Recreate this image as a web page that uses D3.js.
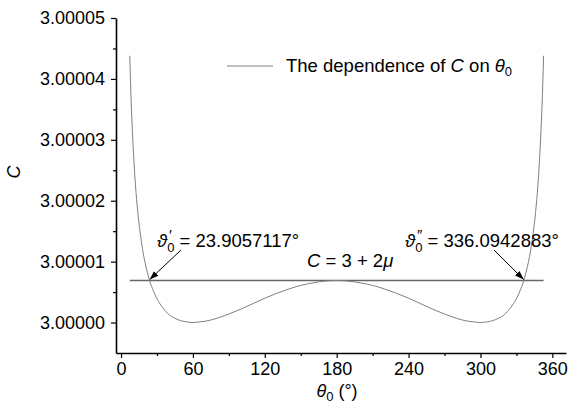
<!DOCTYPE html>
<html>
<head>
<meta charset="utf-8">
<script src="https://cdn.jsdelivr.net/npm/d3@7"></script>
<style>
  body { margin: 0; background: #fff; }
  svg text { font-family: "Liberation Sans", Arial, sans-serif; fill: #000; }
</style>
</head>
<body>
<div id="container"></div>
<script>
// theta0 (deg) and C
var thetaValues = [7.3, 8, 9, 10, 11, 12, 14, 16, 18, 20, 22, 24, 27, 30, 35, 40, 45, 50, 55, 60, 65, 70, 80, 90, 100, 110, 120, 130, 140, 150, 160, 170, 180,
    190, 200, 210, 220, 230, 240, 250, 260, 270, 280, 290, 295, 300, 305, 310, 315, 320, 325, 330, 333, 336, 338, 340, 342, 344, 346, 348, 349, 350, 351, 352, 352.7];
var cValues = [3.0000438, 3.0000391, 3.0000336, 3.0000293, 3.0000257, 3.0000227, 3.0000181, 3.0000147, 3.0000120, 3.0000099, 3.0000082, 3.0000068, 3.0000052, 3.0000039, 3.0000024, 3.0000013, 3.0000007, 3.0000003, 3.0000001, 3.0000000, 3.0000001, 3.0000002, 3.0000007, 3.0000014, 3.0000022, 3.0000031, 3.0000040, 3.0000048, 3.0000055, 3.0000061, 3.0000065, 3.0000068, 3.0000069,
    3.0000068, 3.0000065, 3.0000061, 3.0000055, 3.0000048, 3.0000040, 3.0000031, 3.0000022, 3.0000014, 3.0000007, 3.0000002, 3.0000001, 3.0000000, 3.0000001, 3.0000003, 3.0000007, 3.0000013, 3.0000024, 3.0000039, 3.0000052, 3.0000068, 3.0000082, 3.0000099, 3.0000120, 3.0000147, 3.0000181, 3.0000227, 3.0000257, 3.0000293, 3.0000336, 3.0000391, 3.0000438];

// the horizontal level C = 3 + 2mu and the two crossing points
var levelC = 3.0000069;
var levelTheta = [7.3, 352.7];
var crossTheta = [23.9057117, 336.0942883];
var crossLabels = ['23.9057117°', '336.0942883°'];

var xTicks = [0, 60, 120, 180, 240, 300, 360];
var xMinorTicks = [30, 90, 150, 210, 270, 330];
var yTicks = [3.00000, 3.00001, 3.00002, 3.00003, 3.00004, 3.00005];
var yMinorTicks = [3.000005, 3.000015, 3.000025, 3.000035, 3.000045];

var width = 569, height = 411;
var plotLeft = 116, plotRight = 566, plotTop = 18, plotBottom = 353;

var svg = d3.select('#container').append('svg')
    .attr('width', width)
    .attr('height', height);

var x = d3.scaleLinear().domain([-4.2, 371.4]).range([plotLeft, plotRight]);
var y = d3.scaleLinear().domain([2.999995, 3.00005]).range([plotBottom, plotTop]);

// axes
var xAxis = svg.append('g').attr('class', 'axis').attr('transform', 'translate(0,' + plotBottom + ')');
xAxis.call(d3.axisBottom(x).tickValues(xTicks).tickSize(5).tickSizeOuter(0).tickPadding(4));
xAxis.append('g').attr('class', 'minor').call(d3.axisBottom(x).tickValues(xMinorTicks).tickSize(3).tickFormat(''));

var yAxis = svg.append('g').attr('class', 'axis').attr('transform', 'translate(' + plotLeft + ',0)');
yAxis.call(d3.axisLeft(y).tickValues(yTicks).tickSize(5).tickSizeOuter(0).tickPadding(6).tickFormat(d3.format('.5f')));
yAxis.append('g').attr('class', 'minor').call(d3.axisLeft(y).tickValues(yMinorTicks).tickSize(3).tickFormat(''));

svg.selectAll('.minor .domain').remove();
svg.selectAll('.domain').attr('stroke', '#000').attr('stroke-width', 1.6);
svg.selectAll('.tick line').attr('stroke', '#000').attr('stroke-width', 1.2);
svg.selectAll('.tick text').style('font-size', '18px').style('font-family', '"Liberation Sans", Arial, sans-serif');

// axis titles
svg.append('text')
    .attr('transform', 'translate(20,172) rotate(-90)')
    .attr('text-anchor', 'middle')
    .style('font-size', '18px')
    .style('font-style', 'italic')
    .text('C');

var xt = svg.append('text')
    .attr('x', 337)
    .attr('y', 397)
    .attr('text-anchor', 'middle')
    .style('font-size', '18px');
xt.append('tspan').style('font-style', 'italic').text('θ');
xt.append('tspan').attr('dy', 4).style('font-size', '13px').text('0');
xt.append('tspan').attr('dy', -4).text(' (°)');

// level line
svg.append('line')
    .attr('x1', x(levelTheta[0]))
    .attr('x2', x(levelTheta[1]))
    .attr('y1', y(levelC))
    .attr('y2', y(levelC))
    .attr('stroke', '#666')
    .attr('stroke-width', 1.3);

// curve
var points = thetaValues.map(function(t, i) { return [t, cValues[i]]; });
var line = d3.line()
    .x(function(d) { return x(d[0]); })
    .y(function(d) { return y(d[1]); })
    .curve(d3.curveMonotoneX);

svg.append('path')
    .datum(points)
    .attr('d', line)
    .attr('fill', 'none')
    .attr('stroke', '#808080')
    .attr('stroke-width', 1);

// legend
svg.append('line')
    .attr('x1', 227).attr('x2', 273)
    .attr('y1', 66).attr('y2', 66)
    .attr('stroke', '#808080')
    .attr('stroke-width', 1);
var lg = svg.append('text')
    .attr('x', 286)
    .attr('y', 72)
    .style('font-size', '18.5px');
lg.append('tspan').text('The dependence of ');
lg.append('tspan').style('font-style', 'italic').text('C');
lg.append('tspan').text(' on ');
lg.append('tspan').style('font-style', 'italic').text('θ');
lg.append('tspan').attr('dy', 4).style('font-size', '13px').text('0');

// level label
var lv = svg.append('text')
    .attr('x', 307)
    .attr('y', 267)
    .style('font-size', '18.5px');
lv.append('tspan').style('font-style', 'italic').text('C');
lv.append('tspan').text(' = 3 + 2');
lv.append('tspan').style('font-style', 'italic').text('μ');

// arrows and crossing labels
svg.append('defs').append('marker')
    .attr('id', 'arrow')
    .attr('viewBox', '0 0 10 10')
    .attr('refX', 10).attr('refY', 5)
    .attr('markerWidth', 9).attr('markerHeight', 9)
    .attr('orient', 'auto')
    .attr('markerUnits', 'userSpaceOnUse')
    .append('path')
    .attr('d', 'M0,1.5 L10,5 L0,8.5 Z')
    .attr('fill', '#000');

var arrowStart = [[181, 250], [494, 250]];
var labelX = [157, 405];
var primes = ['′', '″'];
crossTheta.forEach(function(t, i) {
    svg.append('line')
        .attr('x1', arrowStart[i][0])
        .attr('y1', arrowStart[i][1])
        .attr('x2', x(t))
        .attr('y2', y(levelC) - 1)
        .attr('stroke', '#000')
        .attr('stroke-width', 1)
        .attr('marker-end', 'url(#arrow)');

    var tx = svg.append('text')
        .attr('x', labelX[i])
        .attr('y', 247)
        .style('font-size', '18.5px');
    tx.append('tspan').style('font-style', 'italic').text('ϑ');
    tx.append('tspan').attr('dy', 5).style('font-size', '13px').text('0');
    tx.append('tspan').attr('dy', -5).text(' = ' + crossLabels[i]);

    svg.append('text')
        .attr('x', labelX[i] + 12)
        .attr('y', 240)
        .style('font-size', '15px')
        .text(primes[i]);
});
</script>
</body>
</html>
